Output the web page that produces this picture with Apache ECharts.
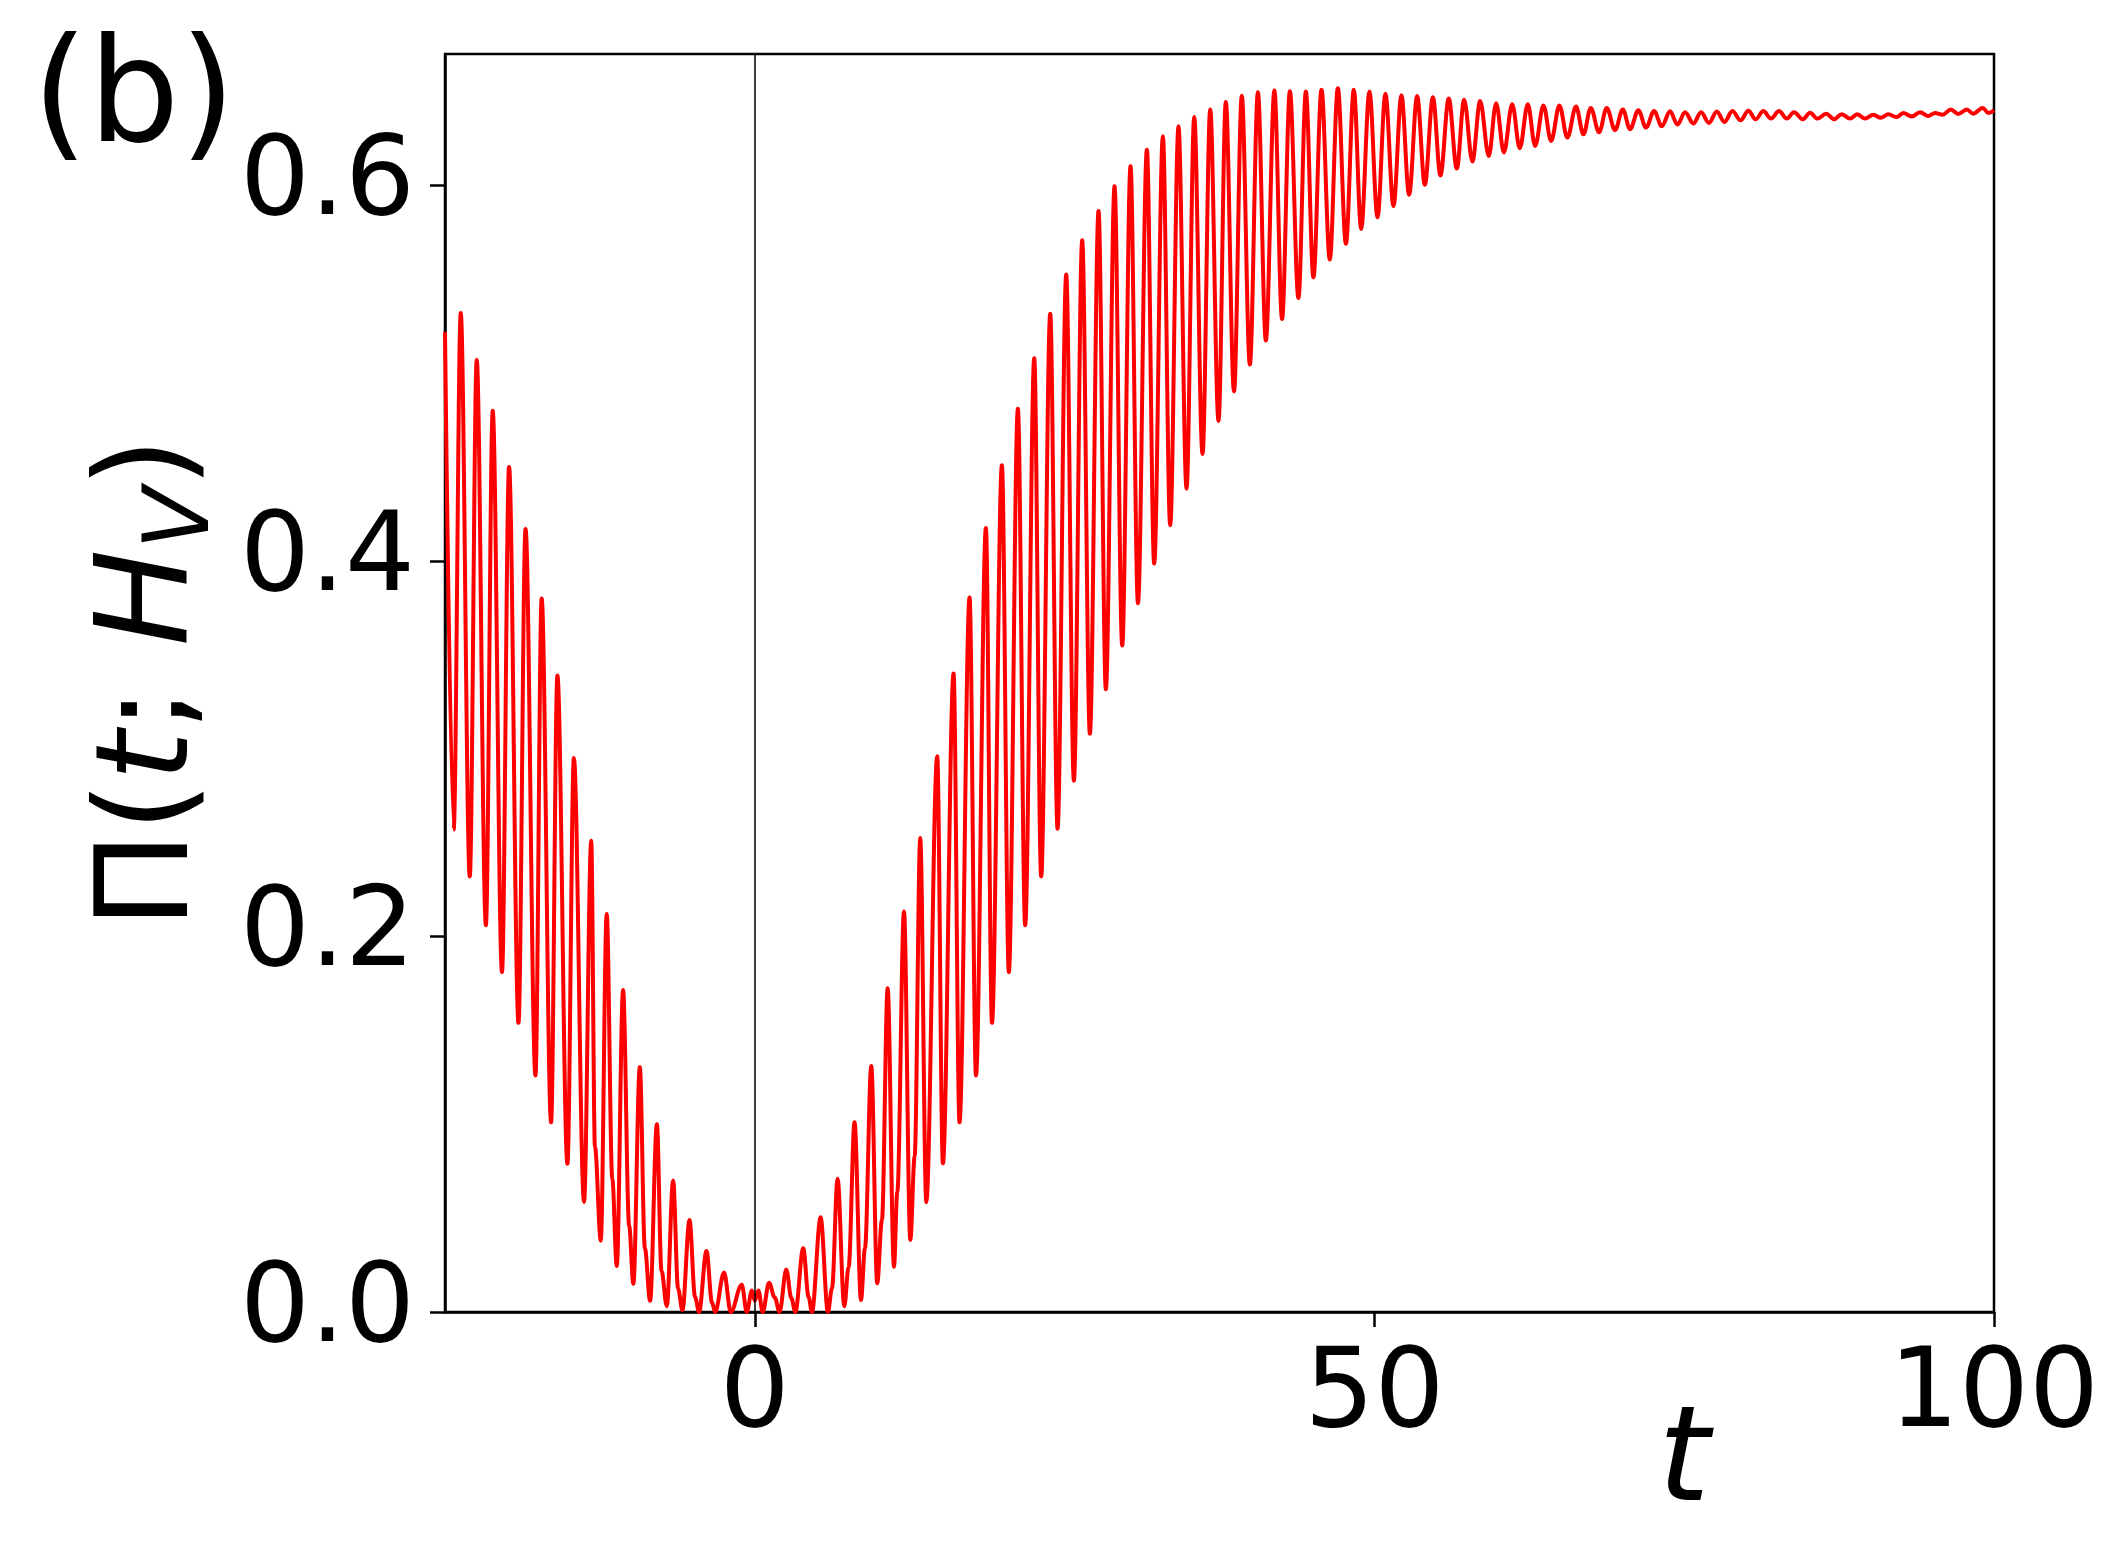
<!DOCTYPE html>
<html>
<head>
<meta charset="utf-8">
<script src="https://cdn.jsdelivr.net/npm/echarts@6/dist/echarts.min.js"></script>
<style>
  html, body { margin: 0; padding: 0; background: #ffffff; }
  #chart { width: 2127px; height: 1558px; }
</style>
</head>
<body>
<div id="chart"></div>
<script>
// ---- data (peaks, troughs and shoulders) ----
// t < 0
const tSegA = [-25.0, -24.3, -23.73, -23.0, -22.44, -21.7, -21.15, -20.4, -19.83, -19.07,
  -18.5, -17.7, -17.2, -16.44, -15.93, -15.12, -14.6, -13.78, -13.2, -12.9,
  -12.43, -11.95, -11.5, -11.14, -10.63, -10.14, -9.8, -9.28, -8.87, -8.45,
  -7.9, -7.53, -7.1, -6.59, -6.19, -5.84, -5.27, -4.82, -4.5, -3.9,
  -3.45, -3.2, -2.48, -1.94, -1.05, -0.65, -0.23, 0.0];
const piSegA = [0.522, 0.257, 0.532, 0.232, 0.507, 0.206, 0.480, 0.181, 0.450, 0.154,
  0.417, 0.126, 0.380, 0.101, 0.339, 0.079, 0.295, 0.0586, 0.251, 0.088,
  0.038, 0.212, 0.071, 0.0245, 0.1715, 0.046, 0.015, 0.1305, 0.034, 0.006,
  0.100, 0.022, 0.003, 0.070, 0.0124, 0.001, 0.049, 0.008, 0.0, 0.0325,
  0.005, 0.0, 0.021, 0.0, 0.0145, 0.0, 0.0114, 0.006];
// 0 < t < 25
const tSegB = [0.29, 0.64, 1.15, 1.6, 2.0, 2.54, 2.95, 3.27, 3.91, 4.34,
  4.61, 5.31, 5.9, 6.23, 6.68, 7.22, 7.57, 8.05, 8.57, 8.89,
  9.4, 9.88, 10.26, 10.72, 11.23, 11.5, 12.04, 12.55, 12.9, 13.35,
  13.84, 14.72, 15.18, 16.04, 16.52, 17.33, 17.85, 18.65, 19.14, 19.94,
  20.5, 21.23, 21.82, 22.55, 23.11, 23.84, 24.43];
const piSegB = [0.0114, 0.0, 0.0156, 0.0078, 0.0, 0.0227, 0.0074, 0.0, 0.034, 0.008,
  0.0, 0.0504, 0.0, 0.0126, 0.071, 0.003, 0.024, 0.101, 0.0064, 0.034,
  0.131, 0.0153, 0.049, 0.1724, 0.0241, 0.064, 0.2133, 0.0384, 0.083, 0.2524,
  0.0585, 0.296, 0.0792, 0.340, 0.101, 0.3806, 0.126, 0.4175, 0.154, 0.451,
  0.181, 0.481, 0.206, 0.508, 0.232, 0.5317, 0.2574];
// 25 < t < 62
const tSegC = [25.13, 25.75, 26.42, 27.04, 27.74, 28.33, 29.03, 29.65, 30.32, 30.92,
  31.64, 32.23, 32.93, 33.52, 34.19, 34.84, 35.46, 36.13, 36.75, 37.42,
  38.01, 38.67, 39.3, 39.95, 40.6, 41.24, 41.93, 42.55, 43.18, 43.87,
  44.47, 45.08, 45.73, 46.4, 47.05, 47.7, 48.34, 48.93, 49.6, 50.25,
  50.89, 51.54, 52.18, 52.8, 53.45, 54.07, 54.72, 55.33, 56.0, 56.65,
  57.24, 57.91, 58.53, 59.23, 59.82, 60.45, 61.12, 61.73];
const piSegC = [0.5526, 0.283, 0.5708, 0.308, 0.5864, 0.3317, 0.5995, 0.355, 0.6102, 0.3775,
  0.619, 0.3986, 0.6262, 0.419, 0.6315, 0.4385, 0.6365, 0.457, 0.6405, 0.4746,
  0.6445, 0.4903, 0.6478, 0.5046, 0.6496, 0.5174, 0.6505, 0.5288, 0.6502, 0.540,
  0.650, 0.551, 0.651, 0.5606, 0.6518, 0.569, 0.651, 0.5768, 0.650, 0.583,
  0.6488, 0.589, 0.648, 0.595, 0.6476, 0.6004, 0.647, 0.6053, 0.6463, 0.609,
  0.6457, 0.6127, 0.645, 0.6157, 0.6438, 0.6176, 0.6433, 0.6198];
// 62 < t < 100
const tSegD = [62.38, 62.97, 63.64, 64.26, 64.93, 65.57, 66.27, 66.87, 67.46, 68.13,
  68.75, 69.42, 70.04, 70.63, 71.3, 71.92, 72.57, 73.19, 73.86, 74.45,
  75.07, 75.74, 76.36, 77.0, 77.63, 78.24, 78.89, 79.55, 80.18, 80.76,
  81.39, 82.0, 82.65, 83.28, 83.86, 84.57, 85.16, 85.75, 86.45, 87.09,
  87.71, 88.38, 88.97, 89.59, 90.26, 90.86, 91.47, 92.15, 92.68, 93.36,
  94.03, 94.7, 95.24, 95.86, 96.51, 97.12, 97.8, 98.33, 99.09, 99.54, 100.0];
const piSegD = [0.6432, 0.621, 0.6426, 0.6237, 0.6426, 0.6255, 0.642, 0.6272, 0.6413, 0.6283,
  0.6413, 0.6294, 0.6405, 0.630, 0.640, 0.6308, 0.6396, 0.6315, 0.6395, 0.6324,
  0.639, 0.633, 0.639, 0.6333, 0.6394, 0.6338, 0.6396, 0.6347, 0.6398, 0.6352,
  0.6396, 0.6356, 0.6396, 0.6356, 0.639, 0.6353, 0.6387, 0.6356, 0.6382, 0.6353,
  0.6379, 0.6356, 0.6379, 0.6356, 0.6377, 0.636, 0.6379, 0.6364, 0.6386, 0.6367,
  0.639, 0.637, 0.6386, 0.6377, 0.6404, 0.638, 0.6404, 0.6382, 0.6413, 0.6386, 0.640];

const xTicks = [0, 50, 100];
const yTicks = [0, 0.2, 0.4, 0.6];

// ---- build ----
const tAll = [].concat(tSegA, tSegB, tSegC, tSegD);
const piAll = [].concat(piSegA, piSegB, piSegC, piSegD);
const seriesData = tAll.map((t, i) => [t, piAll[i]]);

const chart = echarts.init(document.getElementById('chart'), null, { renderer: 'canvas' });
const FONT = 'DejaVu Sans';
chart.setOption({
  animation: false,
  backgroundColor: '#ffffff',
  grid: {
    left: 445, top: 54, width: 1549, height: 1258,
    show: true, borderColor: '#000', borderWidth: 2.5, backgroundColor: 'transparent'
  },
  xAxis: {
    type: 'value', min: -25, max: 100,
    axisLine: { show: true, onZero: false, lineStyle: { color: '#000', width: 2.5 } },
    axisTick: { show: true, length: 15, customValues: xTicks, lineStyle: { color: '#000', width: 2.5 } },
    axisLabel: { customValues: xTicks, fontFamily: FONT, fontSize: 110, color: '#000', margin: 30 },
    splitLine: { show: false }
  },
  yAxis: {
    type: 'value', min: 0, max: 0.67,
    axisLine: { show: true, onZero: false, lineStyle: { color: '#000', width: 2.5 } },
    axisTick: { show: true, length: 15, customValues: yTicks, lineStyle: { color: '#000', width: 2.5 } },
    axisLabel: { customValues: yTicks, fontFamily: FONT, fontSize: 110, color: '#000', margin: 30,
      padding: [30, 0, 0, 0],
      formatter: v => Number(v).toFixed(1) },
    splitLine: { show: false },
    name: '{a|Π(}{i|t}{a|; }{i|H}{s|V}{a|)}',
    nameLocation: 'middle', nameRotate: 90, nameGap: 189,
    nameTextStyle: {
      rich: {
        a: { fontFamily: FONT, fontSize: 129, lineHeight: 129, color: '#000' },
        i: { fontFamily: FONT, fontStyle: 'italic', fontSize: 129, lineHeight: 129, color: '#000' },
        s: { fontFamily: FONT, fontStyle: 'italic', fontSize: 90, lineHeight: 90, color: '#000', padding: [62, 0, 0, 0] }
      }
    }
  },
  graphic: [
    { type: 'text', x: 32, y: 104, silent: true,
      style: { text: '(b)', font: '144px "DejaVu Sans"', fill: '#000', textAlign: 'left', textVerticalAlign: 'middle' } },
    { type: 'text', x: 1684, y: 1466, silent: true,
      style: { text: 't', font: 'italic 132px "DejaVu Sans"', fill: '#000', textAlign: 'center', textVerticalAlign: 'middle' } }
  ],
  series: [{
    type: 'line',
    data: seriesData,
    showSymbol: false,
    smooth: 0.35,
    smoothMonotone: 'x',
    lineStyle: { color: '#ff0000', width: 4 },
    emphasis: { disabled: true },
    markLine: {
      silent: true, symbol: 'none', label: { show: false },
      lineStyle: { color: '#000', width: 1.5, type: 'solid' },
      emphasis: { disabled: true },
      data: [{ xAxis: 0 }]
    }
  }]
});
</script>
</body>
</html>
